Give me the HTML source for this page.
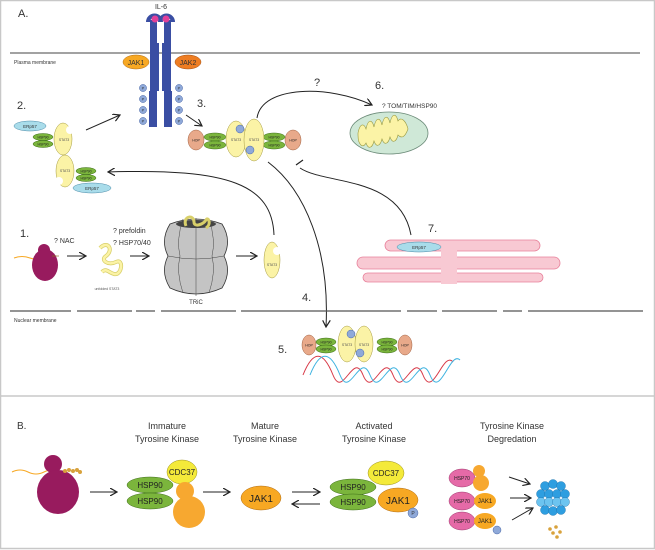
<!DOCTYPE html>
<html><head><meta charset="utf-8"><style>
html,body{margin:0;padding:0;background:#fff}
svg{display:block;font-family:"Liberation Sans",sans-serif}
</style></head><body>
<svg width="655" height="550" viewBox="0 0 655 550" xmlns="http://www.w3.org/2000/svg">
<defs>
<marker id="ah" markerWidth="8" markerHeight="8" refX="7" refY="4" orient="auto" markerUnits="userSpaceOnUse">
<path d="M0,0 L7,4 L0,8" fill="none" stroke="#222" stroke-width="1.2"/></marker>
</defs>
<rect x="0.5" y="0.5" width="654" height="548" fill="#fff" stroke="#c8c8c8" stroke-width="1.5"/>
<line x1="1" y1="396" x2="654" y2="396" stroke="#c8c8c8" stroke-width="1.5"/>

<!-- Panel A -->
<text x="18" y="17" font-size="11" fill="#333">A.</text>
<text x="161" y="9" font-size="7" fill="#333" text-anchor="middle">IL-6</text>
<line x1="10" y1="53" x2="640" y2="53" stroke="#444" stroke-width="1"/>
<text x="14" y="64" font-size="5" fill="#333">Plasma membrane</text>

<!-- receptor -->
<path d="M150,20 H157 V43 H159 V91 H157 V127 H149 V91 H150 Z" fill="#3a4ea3"/>
<path d="M171,20 H164 V43 H162 V91 H164 V127 H172 V91 H171 Z" fill="#3a4ea3"/>
<path d="M148,22 a6.5,6.5 0 0 1 13,0" fill="none" stroke="#3a4ea3" stroke-width="4"/>
<path d="M160,22 a6.5,6.5 0 0 1 13,0" fill="none" stroke="#3a4ea3" stroke-width="4"/>
<circle cx="155" cy="19" r="3.5" fill="#e0409a"/>
<circle cx="166" cy="19" r="3.5" fill="#e0409a"/>
<ellipse cx="136" cy="62" rx="13" ry="7" fill="#f7a823" stroke="#b06a10" stroke-width=".5"/>
<text x="136" y="65" font-size="7" text-anchor="middle" fill="#333">JAK1</text>
<ellipse cx="188" cy="62" rx="13" ry="7" fill="#ee7d22" stroke="#a24e10" stroke-width=".5"/>
<text x="188" y="65" font-size="7" text-anchor="middle" fill="#333">JAK2</text>
<g fill="#8fa9d9" stroke="#4a68a8" stroke-width=".5">
<circle cx="143" cy="88" r="3.6"/><circle cx="143" cy="99" r="3.6"/><circle cx="143" cy="110" r="3.6"/><circle cx="143" cy="121" r="3.6"/>
<circle cx="179" cy="88" r="3.6"/><circle cx="179" cy="99" r="3.6"/><circle cx="179" cy="110" r="3.6"/><circle cx="179" cy="121" r="3.6"/>
</g>
<g font-size="4" fill="#333" text-anchor="middle">
<text x="143" y="89.5">P</text><text x="143" y="100.5">P</text><text x="143" y="111.5">P</text><text x="143" y="122.5">P</text>
<text x="179" y="89.5">P</text><text x="179" y="100.5">P</text><text x="179" y="111.5">P</text><text x="179" y="122.5">P</text>
</g>

<!-- 2 -->
<text x="17" y="109" font-size="11" fill="#333">2.</text>
<ellipse cx="30" cy="126" rx="16" ry="5" fill="#a9dcea" stroke="#4a8aa8" stroke-width=".5"/>
<text x="30" y="128" font-size="4.5" text-anchor="middle" fill="#333">ERp57</text>
<g fill="#7bb53c" stroke="#3d6d19" stroke-width=".5"><ellipse cx="43" cy="137" rx="10" ry="3.5"/><ellipse cx="43" cy="144" rx="10" ry="3.5"/>
<ellipse cx="86" cy="171" rx="10" ry="3.5"/><ellipse cx="86" cy="178" rx="10" ry="3.5"/></g>
<g font-size="3.5" fill="#222" text-anchor="middle"><text x="43" y="138.5">HSP90</text><text x="43" y="145.5">HSP90</text><text x="86" y="172.5">HSP90</text><text x="86" y="179.5">HSP90</text></g>
<g fill="#fbf3a6" stroke="#a49a40" stroke-width=".5">
<ellipse cx="63" cy="139" rx="9" ry="16"/><ellipse cx="65" cy="171" rx="9" ry="16"/></g>
<circle cx="70" cy="130" r="4" fill="#fff"/><circle cx="59" cy="181" r="4" fill="#fff"/>
<g font-size="3.5" fill="#555" text-anchor="middle"><text x="64" y="141">STAT3</text><text x="65" y="172">STAT3</text></g>
<ellipse cx="92" cy="188" rx="19" ry="5" fill="#a9dcea" stroke="#4a8aa8" stroke-width=".5"/>
<text x="92" y="190" font-size="4.5" text-anchor="middle" fill="#333">ERp57</text>
<path d="M86,130 L120,115" stroke="#222" fill="none" marker-end="url(#ah)"/>

<!-- 3 -->
<text x="197" y="107" font-size="11" fill="#333">3.</text>
<path d="M186,115 L202,126" stroke="#222" fill="none" marker-end="url(#ah)"/>
<ellipse cx="196" cy="140" rx="8" ry="10" fill="#e8a98a" stroke="#a06040" stroke-width=".5"/>
<ellipse cx="293" cy="140" rx="8" ry="10" fill="#e8a98a" stroke="#a06040" stroke-width=".5"/>
<g fill="#7bb53c" stroke="#3d6d19" stroke-width=".5"><ellipse cx="215" cy="137" rx="11" ry="4"/><ellipse cx="215" cy="145" rx="11" ry="4"/>
<ellipse cx="274" cy="137" rx="11" ry="4"/><ellipse cx="274" cy="145" rx="11" ry="4"/></g>
<g font-size="3.5" fill="#222" text-anchor="middle"><text x="215" y="138.5">HSP90</text><text x="215" y="146.5">HSP90</text><text x="274" y="138.5">HSP90</text><text x="274" y="146.5">HSP90</text>
<text x="196" y="141.5">HOP</text><text x="293" y="141.5">HOP</text></g>
<g fill="#fbf3a6" stroke="#a49a40" stroke-width=".5"><ellipse cx="236" cy="139" rx="10" ry="18"/><ellipse cx="254" cy="140" rx="10" ry="21"/></g>
<g font-size="3.5" fill="#555" text-anchor="middle"><text x="236" y="141">STAT3</text><text x="254" y="141">STAT3</text></g>
<g fill="#8fa9d9" stroke="#4a68a8" stroke-width=".5"><circle cx="240" cy="129" r="4"/><circle cx="250" cy="150" r="4"/></g>

<!-- curves -->
<path d="M257,118 C262,85 330,85 372,105" stroke="#222" fill="none" marker-end="url(#ah)"/>
<text x="314" y="86" font-size="11" fill="#333">?</text>
<path d="M300,168 C325,185 400,175 411,235" stroke="#222" fill="none"/>
<line x1="296" y1="165" x2="303" y2="160" stroke="#222" stroke-width="1.2"/>
<path d="M268,162 C305,190 330,250 326,327" stroke="#222" fill="none" marker-end="url(#ah)"/>
<path d="M274,235 C272,185 230,168 108,172" stroke="#222" fill="none" marker-end="url(#ah)"/>

<!-- 6 mito -->
<text x="375" y="89" font-size="11" fill="#333">6.</text>
<text x="382" y="108" font-size="6.5" fill="#333">? TOM/TIM/HSP90</text>
<ellipse cx="389" cy="133" rx="39" ry="21" fill="#cfe8d7" stroke="#6b8a78" stroke-width=".8"/>
<path d="M358,133 c2,-10 6,-10 8,-4 c2,-10 6,-10 8,-2 c2,-10 6,-10 8,-2 c2,-10 6,-10 8,-2 c2,-10 6,-10 8,-2 c3,-5 8,0 10,8 c-3,8 -6,10 -10,6 c-2,8 -6,8 -8,2 c-2,8 -6,8 -8,2 c-2,8 -6,8 -8,2 c-2,8 -6,8 -8,2 c-3,6 -8,2 -8,-8 Z" fill="#fbf3a6" stroke="#9a9a40" stroke-width=".6"/>

<!-- 1 -->
<text x="20" y="237" font-size="11" fill="#333">1.</text>
<text x="54" y="243" font-size="7" fill="#333">? NAC</text>
<path d="M14,258 q8,-3 16,0 t16,0" stroke="#f7a823" fill="none" stroke-width="1"/>
<circle cx="44" cy="250" r="6" fill="#981b5e"/>
<ellipse cx="45" cy="265" rx="13" ry="16" fill="#981b5e"/>
<text x="52" y="257" font-size="4" fill="#8a6a20">ooo</text>
<path d="M67,256 L86,256" stroke="#222" fill="none" marker-end="url(#ah)"/>
<path d="M100,248 c8,-8 14,2 6,8 c-6,4 2,10 10,6 c8,-4 6,14 -2,12 c-6,-2 -8,-6 -12,-2" fill="none" stroke="#d8cf6a" stroke-width="4"/>
<path d="M100,248 c8,-8 14,2 6,8 c-6,4 2,10 10,6 c8,-4 6,14 -2,12 c-6,-2 -8,-6 -12,-2" fill="none" stroke="#fbf3a6" stroke-width="2.5"/>
<text x="107" y="290" font-size="3.5" fill="#555" text-anchor="middle">unfolded STAT3</text>
<text x="113" y="233" font-size="7" fill="#333">? prefoldin</text>
<text x="113" y="245" font-size="7" fill="#333">? HSP70/40</text>
<path d="M130,256 L149,256" stroke="#222" fill="none" marker-end="url(#ah)"/>
<!-- TRiC -->
<path d="M170,224 Q196,214 222,224 Q232,240 224,256 Q232,272 222,288 Q196,300 170,288 Q160,272 168,256 Q160,240 170,224 Z" fill="#c4c4c4" stroke="#333" stroke-width=".8"/>
<g stroke="#444" stroke-width=".5" fill="none">
<path d="M196,218 V296"/><path d="M183,219 Q176,240 180,256 Q176,272 183,293"/><path d="M209,219 Q216,240 212,256 Q216,272 209,293"/>
<path d="M168,256 Q196,262 224,256"/></g>
<ellipse cx="196" cy="224" rx="20" ry="4" fill="#444"/>
<path d="M186,226 c-4,-10 8,-12 8,-4 c0,6 10,2 12,-2 c2,-4 6,4 0,8" fill="none" stroke="#d8cf6a" stroke-width="3"/>
<text x="196" y="304" font-size="6" text-anchor="middle" fill="#333">TRiC</text>
<path d="M236,256 L257,256" stroke="#222" fill="none" marker-end="url(#ah)"/>
<ellipse cx="272" cy="260" rx="8" ry="18" fill="#fbf3a6" stroke="#a49a40" stroke-width=".5"/>
<circle cx="277" cy="251" r="4" fill="#fff"/>
<text x="272" y="266" font-size="3.5" fill="#555" text-anchor="middle">STAT3</text>

<!-- 7 ER -->
<text x="428" y="232" font-size="11" fill="#333">7.</text>
<g fill="#f8c9d3" stroke="#e8809a" stroke-width=".8">
<rect x="385" y="240" width="155" height="11" rx="5.5"/>
<rect x="357" y="257" width="203" height="12" rx="6"/>
<rect x="363" y="273" width="180" height="9" rx="4.5"/>
</g>
<rect x="441" y="246" width="16" height="38" fill="#f8c9d3"/>
<ellipse cx="419" cy="247" rx="22" ry="5" fill="#a9dcea" stroke="#4a8aa8" stroke-width=".5"/>
<text x="419" y="249" font-size="4.5" text-anchor="middle" fill="#333">ERp57</text>

<!-- nuclear membrane -->
<g stroke="#555" stroke-width="1.2">
<line x1="10" y1="311" x2="71" y2="311"/><line x1="77" y1="311" x2="132" y2="311"/><line x1="136" y1="311" x2="155" y2="311"/>
<line x1="161" y1="311" x2="236" y2="311"/><line x1="241" y1="311" x2="401" y2="311"/><line x1="407" y1="311" x2="437" y2="311"/>
<line x1="442" y1="311" x2="497" y2="311"/><line x1="503" y1="311" x2="522" y2="311"/><line x1="528" y1="311" x2="643" y2="311"/>
</g>
<text x="14" y="322" font-size="5" fill="#333">Nuclear membrane</text>
<text x="302" y="301" font-size="11" fill="#333">4.</text>

<!-- 5 -->
<text x="278" y="353" font-size="11" fill="#333">5.</text>
<ellipse cx="309" cy="345" rx="7" ry="10" fill="#e8a98a" stroke="#a06040" stroke-width=".5"/>
<ellipse cx="405" cy="345" rx="7" ry="10" fill="#e8a98a" stroke="#a06040" stroke-width=".5"/>
<g fill="#7bb53c" stroke="#3d6d19" stroke-width=".5"><ellipse cx="326" cy="342" rx="10" ry="4"/><ellipse cx="326" cy="349" rx="10" ry="4"/>
<ellipse cx="387" cy="342" rx="10" ry="4"/><ellipse cx="387" cy="349" rx="10" ry="4"/></g>
<g font-size="3.5" fill="#222" text-anchor="middle"><text x="326" y="343.5">HSP90</text><text x="326" y="350.5">HSP90</text><text x="387" y="343.5">HSP90</text><text x="387" y="350.5">HSP90</text>
<text x="309" y="346.5">HOP</text><text x="405" y="346.5">HOP</text></g>
<g fill="#fbf3a6" stroke="#a49a40" stroke-width=".5"><ellipse cx="347" cy="344" rx="9" ry="18"/><ellipse cx="364" cy="344" rx="9" ry="18"/></g>
<g font-size="3.5" fill="#555" text-anchor="middle"><text x="347" y="346">STAT3</text><text x="364" y="346">STAT3</text></g>
<g fill="#8fa9d9" stroke="#4a68a8" stroke-width=".5"><circle cx="351" cy="334" r="4"/><circle cx="360" cy="353" r="4"/></g>
<path d="M303,375 C313,350 323,350 333,375 S353,350 363,375 S383,350 393,375 S413,350 423,375 S443,350 453,362" fill="none" stroke="#d83a48" stroke-width="1"/>
<path d="M310,375 C320,350 330,350 340,375 S360,350 370,375 S390,350 400,375 S420,350 430,375 S450,350 460,360" fill="none" stroke="#3fb3e0" stroke-width="1"/>

<!-- Panel B -->
<text x="17" y="429" font-size="10" fill="#333">B.</text>
<g font-size="9" fill="#333" text-anchor="middle">
<text x="167" y="429">Immature</text><text x="167" y="442">Tyrosine Kinase</text>
<text x="265" y="429">Mature</text><text x="265" y="442">Tyrosine Kinase</text>
<text x="374" y="429">Activated</text><text x="374" y="442">Tyrosine Kinase</text>
<text x="512" y="429">Tyrosine Kinase</text><text x="512" y="442">Degredation</text>
</g>
<path d="M12,472 q8,-4 16,0 t16,0 t16,0" stroke="#f7a823" fill="none" stroke-width="1"/>
<circle cx="53" cy="464" r="9" fill="#981b5e"/>
<ellipse cx="58" cy="492" rx="21" ry="22" fill="#981b5e"/>
<g fill="#d8a23c"><circle cx="65" cy="471" r="2"/><circle cx="69" cy="470" r="2"/><circle cx="73" cy="471" r="2"/><circle cx="77" cy="470" r="2"/><circle cx="80" cy="472" r="2"/></g>
<path d="M90,492 L117,492" stroke="#222" fill="none" marker-end="url(#ah)"/>
<g fill="#7bb53c" stroke="#3d6d19" stroke-width=".5"><ellipse cx="150" cy="485" rx="23" ry="8"/><ellipse cx="150" cy="501" rx="23" ry="8"/></g>
<g font-size="8" fill="#222" text-anchor="middle"><text x="150" y="488">HSP90</text><text x="150" y="504">HSP90</text></g>
<ellipse cx="182" cy="472" rx="15" ry="12" fill="#f4ea3a" stroke="#9a9020" stroke-width=".5"/>
<text x="182" y="475" font-size="8" fill="#222" text-anchor="middle">CDC37</text>
<circle cx="185" cy="491" r="9" fill="#f7a830"/>
<ellipse cx="189" cy="512" rx="16" ry="16" fill="#f7a830"/>
<path d="M203,492 L230,492" stroke="#222" fill="none" marker-end="url(#ah)"/>
<ellipse cx="261" cy="498" rx="20" ry="12" fill="#f7a823" stroke="#b06a10" stroke-width=".5"/>
<text x="261" y="502" font-size="10" fill="#222" text-anchor="middle">JAK1</text>
<path d="M292,492 L320,492" stroke="#222" fill="none" marker-end="url(#ah)"/>
<path d="M320,504 L292,504" stroke="#222" fill="none" marker-end="url(#ah)"/>
<g fill="#7bb53c" stroke="#3d6d19" stroke-width=".5"><ellipse cx="353" cy="487" rx="23" ry="8"/><ellipse cx="353" cy="502" rx="23" ry="8"/></g>
<g font-size="8" fill="#222" text-anchor="middle"><text x="353" y="490">HSP90</text><text x="353" y="505">HSP90</text></g>
<ellipse cx="386" cy="473" rx="18" ry="12" fill="#f4ea3a" stroke="#9a9020" stroke-width=".5"/>
<text x="386" y="476" font-size="8" fill="#222" text-anchor="middle">CDC37</text>
<ellipse cx="398" cy="500" rx="20" ry="12" fill="#f7a823" stroke="#b06a10" stroke-width=".5"/>
<text x="398" y="504" font-size="10" fill="#222" text-anchor="middle">JAK1</text>
<circle cx="413" cy="513" r="5" fill="#8fa9d9" stroke="#4a68a8" stroke-width=".5"/>
<text x="413" y="515" font-size="5" fill="#333" text-anchor="middle">P</text>

<ellipse cx="462" cy="478" rx="13" ry="9" fill="#e56aa7" stroke="#a03a70" stroke-width=".5"/>
<text x="462" y="480" font-size="5" fill="#222" text-anchor="middle">HSP70</text>
<circle cx="479" cy="471" r="6" fill="#f7a830"/><ellipse cx="481" cy="483" rx="8" ry="8" fill="#f7a830"/>
<ellipse cx="462" cy="501" rx="13" ry="9" fill="#e56aa7" stroke="#a03a70" stroke-width=".5"/>
<text x="462" y="503" font-size="5" fill="#222" text-anchor="middle">HSP70</text>
<ellipse cx="485" cy="501" rx="11" ry="8" fill="#f7a823"/>
<text x="485" y="503" font-size="6" fill="#222" text-anchor="middle">JAK1</text>
<ellipse cx="462" cy="521" rx="13" ry="9" fill="#e56aa7" stroke="#a03a70" stroke-width=".5"/>
<text x="462" y="523" font-size="5" fill="#222" text-anchor="middle">HSP70</text>
<ellipse cx="485" cy="521" rx="11" ry="8" fill="#f7a823"/>
<text x="485" y="523" font-size="6" fill="#222" text-anchor="middle">JAK1</text>
<circle cx="497" cy="530" r="4" fill="#8fa9d9" stroke="#4a68a8" stroke-width=".5"/>
<path d="M509,477 L530,484" stroke="#222" fill="none" marker-end="url(#ah)"/>
<path d="M510,498 L531,498" stroke="#222" fill="none" marker-end="url(#ah)"/>
<path d="M512,520 L533,508" stroke="#222" fill="none" marker-end="url(#ah)"/>
<g fill="#2e9ee0" stroke="#1a6fa8" stroke-width=".4">
<circle cx="545" cy="486" r="4.5"/><circle cx="553" cy="484" r="4.5"/><circle cx="561" cy="486" r="4.5"/>
<circle cx="541" cy="494" r="4.5"/><circle cx="549" cy="494" r="4.5"/><circle cx="557" cy="494" r="4.5"/><circle cx="565" cy="494" r="4.5"/>
<circle cx="541" cy="502" r="4.5" fill="#6cc4f0"/><circle cx="549" cy="502" r="4.5" fill="#6cc4f0"/><circle cx="557" cy="502" r="4.5" fill="#6cc4f0"/><circle cx="565" cy="502" r="4.5" fill="#6cc4f0"/>
<circle cx="545" cy="510" r="4.5"/><circle cx="553" cy="511" r="4.5"/><circle cx="561" cy="510" r="4.5"/>
</g>
<g fill="#d8a23c"><circle cx="550" cy="529" r="1.8"/><circle cx="556" cy="527" r="1.8"/><circle cx="553" cy="533" r="1.8"/><circle cx="560" cy="532" r="1.8"/><circle cx="557" cy="537" r="1.8"/></g>
</svg>
</body></html>
